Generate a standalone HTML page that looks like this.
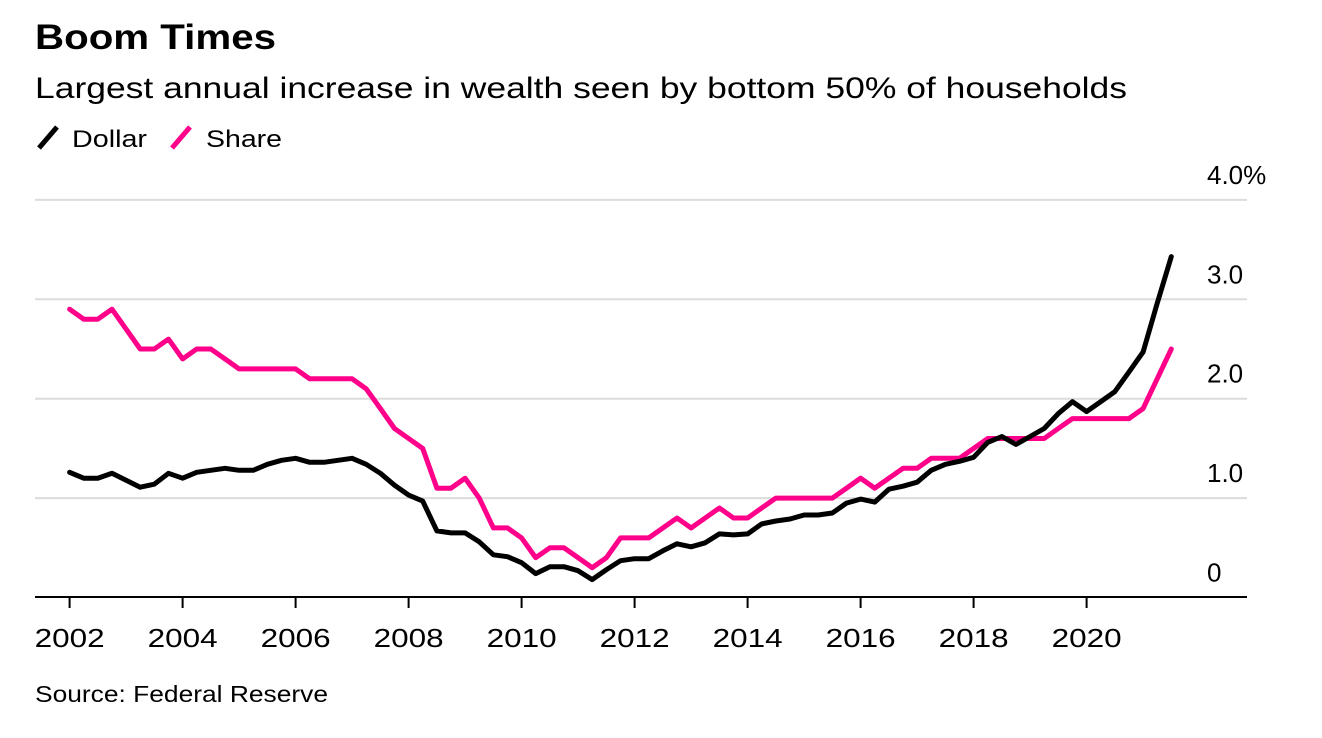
<!DOCTYPE html>
<html><head><meta charset="utf-8"><style>
html,body{margin:0;padding:0;background:#fff;}
svg{display:block;font-family:"Liberation Sans",Arial,sans-serif;}
</style></head><body>
<svg id="chart" width="1322" height="738" viewBox="0 0 1322 738">
<text x="35" y="49" font-size="35" font-weight="bold" textLength="241" lengthAdjust="spacingAndGlyphs">Boom Times</text>
<text x="35" y="98" font-size="30" textLength="1092" lengthAdjust="spacingAndGlyphs">Largest annual increase in wealth seen by bottom 50% of households</text>
<g>
<g><line x1="39" y1="148" x2="57" y2="127" stroke="#000" stroke-width="5"/><text x="72" y="147" font-size="24" textLength="75" lengthAdjust="spacingAndGlyphs">Dollar</text></g>
<g><line x1="172" y1="148" x2="190" y2="127" stroke="#ff008a" stroke-width="5"/><text x="206" y="147" font-size="24" textLength="76" lengthAdjust="spacingAndGlyphs">Share</text></g>
</g>
<g id="grid"></g>
<g id="ylabels"></g>
<g id="xaxis"></g>
<g id="series"></g>
<text x="35" y="702" font-size="23" textLength="293" lengthAdjust="spacingAndGlyphs">Source: Federal Reserve</text>
</svg>
<script>
const startYear = 2002;
const dollarValues = [1.26,1.2,1.2,1.25,1.18,1.11,1.14,1.25,1.2,1.26,1.28,1.3,1.28,1.28,1.34,1.38,1.4,1.36,1.36,1.38,1.4,1.34,1.25,1.13,1.03,0.97,0.67,0.65,0.65,0.56,0.43,0.41,0.35,0.24,0.31,0.31,0.27,0.18,0.28,0.37,0.39,0.39,0.47,0.54,0.51,0.55,0.64,0.63,0.64,0.74,0.77,0.79,0.83,0.83,0.85,0.95,0.99,0.96,1.09,1.12,1.16,1.28,1.34,1.37,1.41,1.56,1.62,1.54,1.62,1.7,1.85,1.97,1.87,1.97,2.07,2.27,2.47,2.96,3.43];
const shareValues = [2.9,2.8,2.8,2.9,2.7,2.5,2.5,2.6,2.4,2.5,2.5,2.4,2.3,2.3,2.3,2.3,2.3,2.2,2.2,2.2,2.2,2.1,1.9,1.7,1.6,1.5,1.1,1.1,1.2,1.0,0.7,0.7,0.6,0.4,0.5,0.5,0.4,0.3,0.4,0.6,0.6,0.6,0.7,0.8,0.7,0.8,0.9,0.8,0.8,0.9,1.0,1.0,1.0,1.0,1.0,1.1,1.2,1.1,1.2,1.3,1.3,1.4,1.4,1.4,1.5,1.6,1.6,1.6,1.6,1.6,1.7,1.8,1.8,1.8,1.8,1.8,1.9,2.2,2.5];
const yTicks = [0,1,2,3,4];
const yTickLabels = ["0","1.0","2.0","3.0","4.0%"];
const xTickYears = [2002,2004,2006,2008,2010,2012,2014,2016,2018,2020];

const NS = "http://www.w3.org/2000/svg";
function xScale(year){ return 69.6 + (year - 2002) * 56.5; }
function yScale(v){ return 597.5 - v * 99.4; }
function mk(tag, attrs, parent){ const e = document.createElementNS(NS, tag); for (const k in attrs) e.setAttribute(k, attrs[k]); parent.appendChild(e); return e; }

const grid = document.getElementById('grid');
const yl = document.getElementById('ylabels');
yTicks.forEach((t, i) => {
  if (t > 0) {
    const g = mk('line', {x1:35, x2:1247, y1:yScale(t), y2:yScale(t), stroke:'#dcdcdc', 'stroke-width':2}, grid);
    
    
  }
  const tx = mk('text', {x:1207, y:yScale(t) - 16, 'font-size':26}, yl);
  tx.textContent = yTickLabels[i];
  
  
});

const xa = document.getElementById('xaxis');
const axisLine = mk('line', {x1:35, x2:1247, y1:597, y2:597, stroke:'#000', 'stroke-width':2}, xa);


xTickYears.forEach(yr => {
  const x = xScale(yr);
  const tk = mk('line', {x1:x, x2:x, y1:597, y2:608, stroke:'#000', 'stroke-width':2}, xa);
  
  
  const tx = mk('text', {x:x, y:647, 'font-size':26, 'text-anchor':'middle', textLength:70, lengthAdjust:'spacingAndGlyphs'}, xa);
  tx.textContent = String(yr);
  
  
});

const series = document.getElementById('series');
function drawLine(vals, color, name){
  const pts = vals.map((v, i) => xScale(startYear + i * 0.25).toFixed(1) + ',' + yScale(v).toFixed(1)).join(' ');
  const p = mk('polyline', {points:pts, fill:'none', stroke:color, 'stroke-width':5, 'stroke-linejoin':'round', 'stroke-linecap':'round'}, series);
  
  
}
drawLine(shareValues, '#ff008a', 'share-line');
drawLine(dollarValues, '#000000', 'dollar-line');
</script>
</body></html>
